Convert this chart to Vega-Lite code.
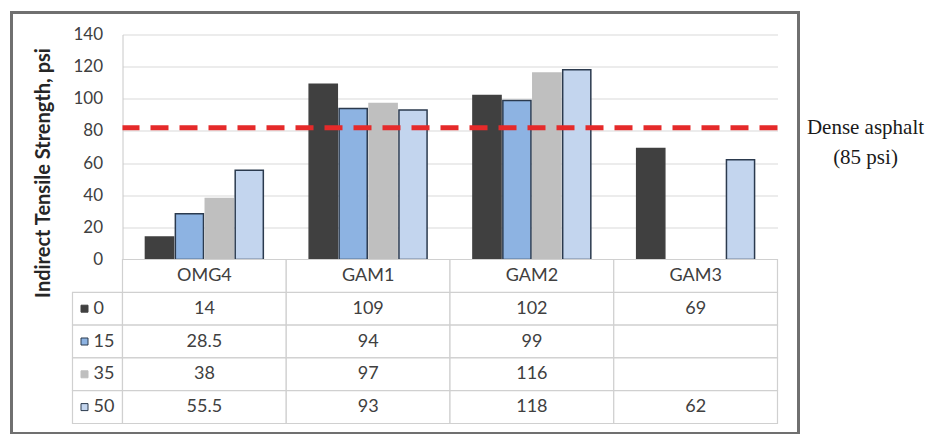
{
  "$schema": "https://vega.github.io/schema/vega-lite/v6.json",
  "padding": {"left": 8.5, "top": 9.5, "right": 0, "bottom": 0},
  "autosize": {"type": "pad"},
  "background": "white",
  "config": {"font": "Lato", "view": {"stroke": null}},
  "datasets": {
    "d": [
      {"cat": "OMG4", "series": "0", "value": 14},
      {"cat": "OMG4", "series": "15", "value": 28.5},
      {"cat": "OMG4", "series": "35", "value": 38},
      {"cat": "OMG4", "series": "50", "value": 55.5},
      {"cat": "GAM1", "series": "0", "value": 109},
      {"cat": "GAM1", "series": "15", "value": 94},
      {"cat": "GAM1", "series": "35", "value": 97},
      {"cat": "GAM1", "series": "50", "value": 93},
      {"cat": "GAM2", "series": "0", "value": 102},
      {"cat": "GAM2", "series": "15", "value": 99},
      {"cat": "GAM2", "series": "35", "value": 116},
      {"cat": "GAM2", "series": "50", "value": 118},
      {"cat": "GAM3", "series": "0", "value": 69},
      {"cat": "GAM3", "series": "15", "value": null},
      {"cat": "GAM3", "series": "35", "value": null},
      {"cat": "GAM3", "series": "50", "value": 62}
    ],
    "one": [{}]
  },
  "columns": 5,
  "spacing": 0,
  "bounds": "flush",
  "resolve": {"scale": {"x": "independent", "y": "independent"}},
  "concat": [
    {
      "width": 61, "height": 22, "data": {"name": "one"},
      "layer": [
        {"mark": {"type": "rule", "color": "#707070", "strokeWidth": 3, "strokeCap": "square"},
         "encoding": {"y": {"datum": 1, "type": "quantitative", "scale": {"domain": [0, 1]}, "axis": null}}},
        {"mark": {"type": "rule", "color": "#707070", "strokeWidth": 3, "strokeCap": "square"},
         "encoding": {"x": {"datum": 0, "type": "quantitative", "scale": {"domain": [0, 1]}, "axis": null}}}
      ]
    },
    {
      "width": 50, "height": 22, "data": {"name": "one"},
      "mark": {"type": "rule", "color": "#707070", "strokeWidth": 3, "strokeCap": "square"},
      "encoding": {"y": {"datum": 1, "type": "quantitative", "scale": {"domain": [0, 1]}, "axis": null}}
    },
    {
      "width": 655, "height": 22, "data": {"name": "one"},
      "mark": {"type": "rule", "color": "#707070", "strokeWidth": 3, "strokeCap": "square"},
      "encoding": {"y": {"datum": 1, "type": "quantitative", "scale": {"domain": [0, 1]}, "axis": null}}
    },
    {
      "width": 21, "height": 22, "data": {"name": "one"},
      "layer": [
        {"mark": {"type": "rule", "color": "#707070", "strokeWidth": 3, "strokeCap": "square"},
         "encoding": {"y": {"datum": 1, "type": "quantitative", "scale": {"domain": [0, 1]}, "axis": null}}},
        {"mark": {"type": "rule", "color": "#707070", "strokeWidth": 3, "strokeCap": "square"},
         "encoding": {"x": {"datum": 1, "type": "quantitative", "scale": {"domain": [0, 1]}, "axis": null}}}
      ]
    },
    {
      "width": 128, "height": 22, "data": {"name": "one"},
      "mark": {"type": "point", "opacity": 0}, "encoding": {}
    },
    {
      "width": 61, "height": 225, "data": {"name": "one"},
      "mark": {"type": "rule", "color": "#707070", "strokeWidth": 3, "strokeCap": "square"},
      "encoding": {"x": {"datum": 0, "type": "quantitative", "scale": {"domain": [0, 1]}, "axis": null}}
    },
    {
      "width": 50, "height": 225, "data": {"name": "one"},
      "mark": {"type": "point", "opacity": 0}, "encoding": {}
    },
    {
      "width": 655,
      "height": 225,
      "data": {"name": "d"},
      "layer": [
        {
          "transform": [{"filter": "isValid(datum.value)"}],
          "mark": {"type": "bar", "strokeWidth": 1.5},
          "encoding": {
            "x": {
              "field": "cat", "type": "nominal",
              "sort": ["OMG4", "GAM1", "GAM2", "GAM3"],
              "scale": {"paddingInner": 0.28, "paddingOuter": 0.14},
              "axis": null
            },
            "xOffset": {
              "field": "series", "type": "nominal",
              "sort": ["0", "15", "35", "50"],
              "scale": {"paddingInner": 0.06}
            },
            "y": {
              "field": "value", "type": "quantitative",
              "scale": {"domain": [0, 140]},
              "axis": {
                "values": [0, 20, 40, 60, 80, 100, 120, 140],
                "tickCount": 8,
                "labelOverlap": false,
                "grid": true, "gridColor": "#d9d9d9", "gridWidth": 1,
                "domain": true, "domainColor": "#c8c8c8",
                "ticks": false,
                "labelFont": "Lato", "labelFontSize": 17, "labelColor": "#404040",
                "labelPadding": 20,
                "title": "Indirect Tensile Strength, psi",
                "titleFont": "Lato", "titleFontSize": 20, "titleFontWeight": "bold",
                "titleColor": "#262626", "titlePadding": 19, "titleY": 138
              }
            },
            "color": {
              "field": "series", "type": "nominal",
              "scale": {"domain": ["0", "15", "35", "50"], "range": ["#404040", "#8DB3E2", "#BFBFBF", "#C3D5EE"]},
              "legend": null
            },
            "stroke": {
              "field": "series", "type": "nominal",
              "scale": {"domain": ["0", "15", "35", "50"], "range": ["#404040", "#2B3A4E", "#BFBFBF", "#2B3A4E"]},
              "legend": null
            }
          }
        },
        {
          "data": {"name": "one"},
          "mark": {"type": "rule", "color": "#E52A2A", "strokeWidth": 5, "strokeDash": [18, 11]},
          "encoding": {"y": {"datum": 82, "type": "quantitative"}}
        }
      ]
    },
    {
      "width": 21, "height": 225, "data": {"name": "one"},
      "mark": {"type": "rule", "color": "#707070", "strokeWidth": 3, "strokeCap": "square"},
      "encoding": {"x": {"datum": 1, "type": "quantitative", "scale": {"domain": [0, 1]}, "axis": null}}
    },
    {
      "width": 128,
      "height": 225,
      "data": {"name": "one"},
      "mark": {
        "type": "text", "font": "Liberation Serif", "fontSize": 21, "color": "#1a1a1a",
        "lineHeight": 30, "dx": 3, "dy": 0, "baseline": "middle",
        "text": ["Dense asphalt", "(85 psi)"]
      },
      "encoding": {
        "x": {"datum": "a", "type": "nominal", "axis": null},
        "y": {"datum": 82, "type": "quantitative", "scale": {"domain": [0, 140]}, "axis": null}
      }
    },
    {
      "width": 61, "height": 164, "data": {"name": "one"},
      "mark": {"type": "rule", "color": "#707070", "strokeWidth": 3, "strokeCap": "square"},
      "encoding": {"x": {"datum": 0, "type": "quantitative", "scale": {"domain": [0, 1]}, "axis": null}}
    },
    {
      "width": 50,
      "height": 164,
      "data": {"name": "d"},
      "transform": [{"filter": "datum.cat == 'OMG4'"}],
      "encoding": {
        "y": {
          "field": "series", "type": "nominal",
          "scale": {"domain": ["hdr", "0", "15", "35", "50"], "paddingInner": 0, "paddingOuter": 0},
          "axis": null
        }
      },
      "layer": [
        {"mark": {"type": "rect", "fill": "white", "stroke": "#d0d0d0", "strokeWidth": 1.2}},
        {
          "mark": {"type": "point", "shape": "square", "filled": true, "size": 49, "opacity": 1, "xOffset": -13, "strokeWidth": 1},
          "encoding": {
            "x": {"datum": "c", "type": "nominal", "axis": null},
            "color": {
              "field": "series", "type": "nominal",
              "scale": {"domain": ["0", "15", "35", "50"], "range": ["#404040", "#8DB3E2", "#BFBFBF", "#C3D5EE"]},
              "legend": null
            },
            "stroke": {
              "field": "series", "type": "nominal",
              "scale": {"domain": ["0", "15", "35", "50"], "range": ["#404040", "#2B3A4E", "#BFBFBF", "#2B3A4E"]},
              "legend": null
            }
          }
        },
        {
          "mark": {"type": "text", "align": "left", "dx": -4, "fontSize": 18, "color": "#404040"},
          "encoding": {
            "x": {"datum": "c", "type": "nominal", "axis": null},
            "text": {"field": "series", "type": "nominal"}
          }
        }
      ]
    },
    {
      "width": 655,
      "height": 164,
      "data": {"name": "d"},
      "encoding": {
        "x": {
          "field": "cat", "type": "nominal",
          "sort": ["OMG4", "GAM1", "GAM2", "GAM3"],
          "scale": {"paddingInner": 0, "paddingOuter": 0},
          "axis": null
        }
      },
      "layer": [
        {
          "mark": {"type": "rect", "fill": "white", "stroke": "#d0d0d0", "strokeWidth": 1.2},
          "encoding": {
            "y": {
              "field": "series", "type": "nominal",
              "scale": {"domain": ["hdr", "0", "15", "35", "50"], "paddingInner": 0, "paddingOuter": 0},
              "axis": null
            }
          }
        },
        {
          "transform": [{"filter": "datum.series == '0'"}],
          "mark": {"type": "rect", "fill": "white", "stroke": "#d0d0d0", "strokeWidth": 1.2},
          "encoding": {"y": {"datum": "hdr", "type": "nominal"}}
        },
        {
          "transform": [{"filter": "isValid(datum.value)"}],
          "mark": {"type": "text", "fontSize": 18, "color": "#404040"},
          "encoding": {
            "y": {"field": "series", "type": "nominal"},
            "text": {"field": "value", "type": "nominal"}
          }
        },
        {
          "transform": [{"filter": "datum.series == '0'"}],
          "mark": {"type": "text", "fontSize": 18, "color": "#404040"},
          "encoding": {
            "y": {"datum": "hdr", "type": "nominal"},
            "text": {"field": "cat", "type": "nominal"}
          }
        }
      ]
    },
    {
      "width": 21, "height": 164, "data": {"name": "one"},
      "mark": {"type": "rule", "color": "#707070", "strokeWidth": 3, "strokeCap": "square"},
      "encoding": {"x": {"datum": 1, "type": "quantitative", "scale": {"domain": [0, 1]}, "axis": null}}
    },
    {
      "width": 128, "height": 164, "data": {"name": "one"},
      "mark": {"type": "point", "opacity": 0}, "encoding": {}
    },
    {
      "width": 61, "height": 10, "data": {"name": "one"},
      "layer": [
        {"mark": {"type": "rule", "color": "#707070", "strokeWidth": 3, "strokeCap": "square"},
         "encoding": {"y": {"datum": 0, "type": "quantitative", "scale": {"domain": [0, 1]}, "axis": null}}},
        {"mark": {"type": "rule", "color": "#707070", "strokeWidth": 3, "strokeCap": "square"},
         "encoding": {"x": {"datum": 0, "type": "quantitative", "scale": {"domain": [0, 1]}, "axis": null}}}
      ]
    },
    {
      "width": 50, "height": 10, "data": {"name": "one"},
      "mark": {"type": "rule", "color": "#707070", "strokeWidth": 3, "strokeCap": "square"},
      "encoding": {"y": {"datum": 0, "type": "quantitative", "scale": {"domain": [0, 1]}, "axis": null}}
    },
    {
      "width": 655, "height": 10, "data": {"name": "one"},
      "mark": {"type": "rule", "color": "#707070", "strokeWidth": 3, "strokeCap": "square"},
      "encoding": {"y": {"datum": 0, "type": "quantitative", "scale": {"domain": [0, 1]}, "axis": null}}
    },
    {
      "width": 21, "height": 10, "data": {"name": "one"},
      "layer": [
        {"mark": {"type": "rule", "color": "#707070", "strokeWidth": 3, "strokeCap": "square"},
         "encoding": {"y": {"datum": 0, "type": "quantitative", "scale": {"domain": [0, 1]}, "axis": null}}},
        {"mark": {"type": "rule", "color": "#707070", "strokeWidth": 3, "strokeCap": "square"},
         "encoding": {"x": {"datum": 1, "type": "quantitative", "scale": {"domain": [0, 1]}, "axis": null}}}
      ]
    }
  ]
}
